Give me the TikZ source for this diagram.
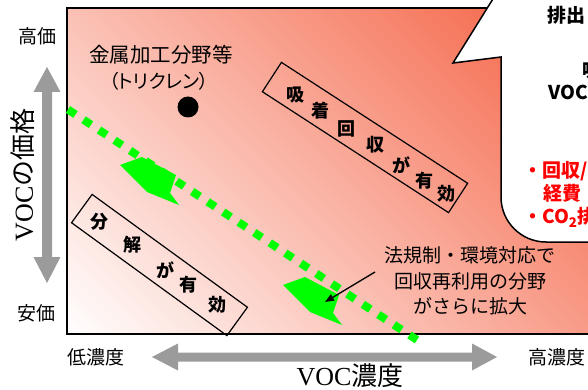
\documentclass[tikz,border=0pt]{standalone}
\usepackage{fontspec}
\setmainfont{Noto Sans CJK JP}
\newfontfamily\tms{Liberation Serif}
\newfontfamily\jpp{Noto Sans CJK JP}[RawFeature=+palt]
\usetikzlibrary{arrows.meta}
\definecolor{gEnd}{RGB}{243,80,46}
\definecolor{arrGray}{RGB}{155,155,155}
\definecolor{lineGreen}{RGB}{0,255,0}
\definecolor{txtRed}{RGB}{255,0,0}
\pgfdeclarehorizontalshading{bgshade}{720bp}{color(0bp)=(white); color(51bp)=(white); color(700bp)=(gEnd)}
\begin{document}
\begin{tikzpicture}[x=1pt,y=-1pt,
  lbl/.style={font=\fontsize{19}{23}\selectfont, inner sep=0pt},
  big/.style={font=\fontsize{26}{30}\selectfont, inner sep=0pt},
  boxch/.style={font=\fontsize{18}{20}\selectfont\bfseries, inner sep=0pt},
  cal/.style={font=\fontsize{19}{23}\selectfont\bfseries, inner sep=0pt, anchor=west},
  slantbox/.style={draw, line width=1.2pt, minimum height=35pt, inner sep=0pt},
  grayarrow/.style={fill=arrGray},
  greenarrow/.style={fill=lineGreen}]
\useasboundingbox (0,0) rectangle (588,390);
\clip (0,0) rectangle (588,390);
% background gradient
\begin{scope}
  \clip (67,8) rectangle (650,334);
  \node[inner sep=0pt, rotate=45] (bg) at (327.5,171) {\pgfuseshading{bgshade}};
\end{scope}
\draw[line width=1.5pt] (67,8) rectangle (650,334);

% axis arrows
\fill[grayarrow] (47,67) -- (60.5,92) -- (52,92) -- (52,257) -- (60.5,257) -- (47,283)
  -- (33.5,257) -- (42,257) -- (42,92) -- (33.5,92) -- cycle;
\fill[grayarrow] (152,357) -- (178,343.5) -- (178,352.5) -- (472,352.5) -- (472,343.5) -- (497,357)
  -- (472,370.5) -- (472,361.5) -- (178,361.5) -- (178,370.5) -- cycle;

% axis labels
\node[lbl] (hiP) at (37,36) {高価};
\node[lbl] (loP) at (36,313) {安価};
\node[lbl] (loC) at (96,357) {低濃度};
\node[lbl, anchor=west] (hiC) at (528,357) {高濃度};
\node[big] (xl) at (350,376) {{\tms VOC}濃度};
\node[big, rotate=90] (yl) at (23,175) {{\tms VOC}の価格};

% metal processing
\node[lbl, font=\fontsize{20.5}{24}\selectfont] (metal) at (161,55) {金属加工分野等};
\node[lbl, font=\fontsize{19}{23}\selectfont\jpp] (tri) at (159,81) {（トリクレン）};
\fill (188,107) circle[radius=10.5];

% slanted boxes
\node[slantbox, minimum width=222pt, rotate=-33] (box1) at (365,137.5) {};
\node[boxch] (b1a) at (295,95) {吸};
\node[boxch] (b1b) at (320,111) {着};
\node[boxch] (b1c) at (346,129) {回};
\node[boxch] (b1d) at (375,145) {収};
\node[boxch] (b1e) at (401,165) {が};
\node[boxch] (b1f) at (424,181) {有};
\node[boxch] (b1g) at (446,194) {効};

\node[slantbox, minimum width=192pt, rotate=-36] (box2) at (159.5,265) {};
\node[boxch] (b2a) at (99,222) {分};
\node[boxch] (b2b) at (132,245) {解};
\node[boxch] (b2c) at (165,270) {が};
\node[boxch] (b2d) at (188,285) {有};
\node[boxch] (b2e) at (217,305) {効};

% green arrows
\fill[greenarrow, shift={(142,157)}] (0,0) -- (34,18) -- (28,36) -- (37,48) -- (5,35) -- (-22,8) -- cycle;
\fill[greenarrow, shift={(305,277)}] (0,0) -- (34,18) -- (28,36) -- (37,48) -- (5,35) -- (-22,8) -- cycle;

% green dotted boundary
\coordinate (g1) at (68,109.5);
\coordinate (g2) at (417,340);
\draw[lineGreen, line width=8pt, dash pattern=on 9pt off 9.6pt] (g1) -- (g2);

% regulation text and arrow
\node[lbl] (reg1) at (470,255) {法規制・環境対応で};
\node[lbl] (reg2) at (470,281) {回収再利用の分野};
\node[lbl] (reg3) at (470,306) {がさらに拡大};
\coordinate (a1) at (375,272);
\coordinate (a2) at (325,302);
\draw[line width=1.3pt, -{Triangle[length=9pt,width=7pt]}] (a1) -- (a2);

% callout
\draw[line width=1.5pt, fill=white, line join=miter] (501,-30) -- (501,-14) -- (453,63) -- (501,57)
  -- (501,197) arc[start angle=180, end angle=90, radius=45] -- (650,242) -- (650,-30) -- cycle;
\node[cal] (c1) at (547,15) {排出};
\node[cal] (c2) at (582,71) {吸};
\node[cal] (c3) at (548,92) {VOC};
\node[cal, text=txtRed] (c4) at (523,171) {・回収/};
\node[cal, text=txtRed] (c5) at (543,193) {経費};
\node[cal, text=txtRed] (c6) at (523,217) {・CO\textsubscript{2}排};
\end{tikzpicture}
\end{document}
